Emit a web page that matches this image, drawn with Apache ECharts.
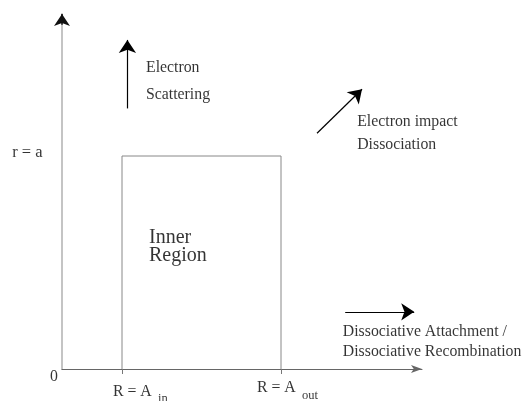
<!DOCTYPE html>
<html>
<head>
<meta charset="utf-8">
<script src="https://cdn.jsdelivr.net/npm/echarts@6/dist/echarts.min.js"></script>
<style>html,body{margin:0;padding:0;background:#fff;}#c{width:525px;height:401px;}</style>
</head>
<body>
<div id="c"></div>
<script>
// boundaries of the inner region (axis units)
var A_in = 1.0;
var A_out = 3.65;
var r_a = 6.0;
var xMax = 6;
var yMax = 10;

// rectangle outline of the inner region
var innerBox = [[A_in, 0], [A_in, r_a], [A_out, r_a], [A_out, 0]];

// arrows: [start, end]
var arrows = [
  [[1.09, 7.34], [1.09, 9.27]],   // electron scattering
  [[4.25, 6.64], [5.00, 7.88]],   // electron impact dissociation
  [[4.72, 1.61], [5.87, 1.61]]    // dissociative attachment / recombination
];

// text annotations: [x, y, text, size]
var labels = [
  [1.40, 8.47, 'Electron', 15.8],
  [1.40, 7.71, 'Scattering', 15.8],
  [4.92, 6.95, 'Electron impact', 15.8],
  [4.92, 6.30, 'Dissociation', 15.8],
  [4.68, 1.05, 'Dissociative Attachment /', 15.8],
  [4.68, 0.48, 'Dissociative Recombination', 15.8],
  [1.45, 3.70, 'Inner', 20],
  [1.45, 3.19, 'Region', 20],
  [-0.83, 6.10, 'r = a', 16.5],
  [-0.20, -0.23, '0', 15.8],
  [0.85, -0.65, 'R = A', 15.8],
  [1.60, -0.85, 'in', 12.5],
  [3.25, -0.54, 'R = A', 15.8],
  [4.00, -0.76, 'out', 12.5]
];

var chart = echarts.init(document.getElementById('c'));
var font = 'Liberation Serif';
chart.setOption({
  animation: false,
  grid: { left: 62, top: 14, width: 360, height: 355 },
  xAxis: {
    type: 'value', min: 0, max: xMax,
    axisLine: { show: true, symbol: ['none', 'arrow'], symbolSize: [6, 11],
      lineStyle: { color: '#666', width: 1 } },
    axisTick: { show: true, customValues: [A_in, A_out], length: 5, lineStyle: { color: '#777' } },
    axisLabel: { show: false },
    splitLine: { show: false }
  },
  yAxis: {
    type: 'value', min: 0, max: yMax,
    axisLine: { show: true, lineStyle: { color: '#c4c4c4', width: 2 } },
    axisTick: { show: false },
    axisLabel: { show: false },
    splitLine: { show: false }
  },
  series: [
    {
      type: 'line', data: innerBox, symbol: 'none', silent: true,
      lineStyle: { color: '#888', width: 1 }
    },
    {
      type: 'lines', coordinateSystem: 'cartesian2d', silent: true, clip: false,
      symbol: ['none', 'arrow'], symbolSize: [8, 13],
      lineStyle: { color: '#000', width: 1.2, opacity: 1 },
      data: arrows.map(function (a) { return { coords: a }; })
    },
    {
      type: 'lines', coordinateSystem: 'cartesian2d', silent: true, clip: false,
      symbol: ['none', 'arrow'], symbolSize: [6, 12],
      lineStyle: { color: '#111', width: 1.5, opacity: 1 },
      data: [{ coords: [[0, 9.7], [0, yMax]] }]
    },
    {
      type: 'scatter', symbolSize: 0, clip: false, silent: true,
      data: labels.map(function (l) {
        return {
          value: [l[0], l[1]],
          label: { show: true, formatter: l[2], fontSize: l[3] }
        };
      }),
      label: {
        show: true, position: [0, 0], align: 'left', verticalAlign: 'middle',
        fontFamily: font, color: '#000'
      }
    }
  ]
});
</script>
</body>
</html>
